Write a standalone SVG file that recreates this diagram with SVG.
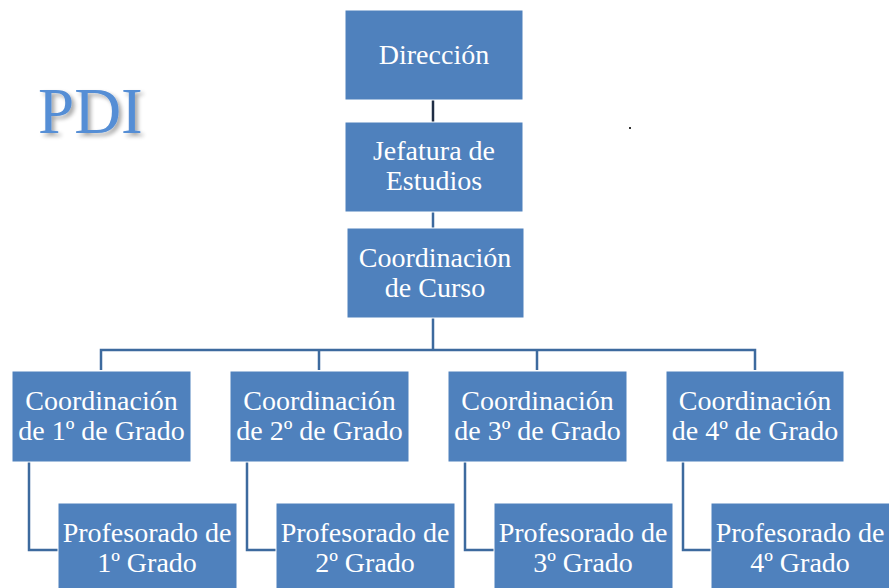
<svg xmlns="http://www.w3.org/2000/svg" width="889" height="588" viewBox="0 0 889 588">
<defs>
<style>
.box{fill:#4F81BD;stroke:#FFFFFF;stroke-width:1}
.t{font-family:'Liberation Serif',serif;font-size:28px;fill:#FFFFFF;text-anchor:middle}
.c{fill:none;stroke:#3D6A9E;stroke-width:2.5}
</style>
<filter id="sh" x="-10%" y="-10%" width="130%" height="130%">
<feGaussianBlur in="SourceAlpha" stdDeviation="2"/>
<feOffset dx="3" dy="3" result="b"/>
<feComponentTransfer><feFuncA type="linear" slope="0.35"/></feComponentTransfer>
<feMerge><feMergeNode/><feMergeNode in="SourceGraphic"/></feMerge>
</filter>
</defs>
<rect width="889" height="588" fill="#FFFFFF"/>
<text x="38" y="133" font-family="Liberation Serif,serif" font-size="65" fill="#558ED5" filter="url(#sh)">PDI</text>
<rect x="629" y="127" width="2" height="2" fill="#333"/>
<g id="connectors">
<line x1="433" y1="100" x2="433" y2="122" stroke="#1F2D44" stroke-width="2.5"/>
<line class="c" x1="433" y1="212" x2="433" y2="228"/>
<path class="c" d="M433 318V350M101 370V350H755V370M319 350V370M537 350V370"/>
<path class="c" d="M29 462V550H58M247 462V550H276M465 462V550H494M683 462V550H711"/>
</g>
<g font-family="Liberation Serif,serif">
<g id="direccion"><rect class="box" x="345" y="10" width="178" height="90"/><text class="t" x="434" y="64">Dirección</text></g>
<g id="jefatura"><rect class="box" x="345" y="122" width="178" height="90"/><text class="t" x="434" y="160">Jefatura de</text><text class="t" x="434" y="190">Estudios</text></g>
<g id="curso"><rect class="box" x="347" y="228" width="177" height="90"/><text class="t" x="435" y="267">Coordinación</text><text class="t" x="435" y="297">de Curso</text></g>
<g id="coord1"><rect class="box" x="12" y="371" width="179" height="91"/><text class="t" x="101.5" y="410">Coordinación</text><text class="t" x="101.5" y="440">de 1º de Grado</text></g>
<g id="coord2"><rect class="box" x="230" y="371" width="179" height="91"/><text class="t" x="319.5" y="410">Coordinación</text><text class="t" x="319.5" y="440">de 2º de Grado</text></g>
<g id="coord3"><rect class="box" x="448" y="371" width="179" height="91"/><text class="t" x="537.5" y="410">Coordinación</text><text class="t" x="537.5" y="440">de 3º de Grado</text></g>
<g id="coord4"><rect class="box" x="666" y="371" width="178" height="91"/><text class="t" x="755" y="410">Coordinación</text><text class="t" x="755" y="440">de 4º de Grado</text></g>
<g id="prof1"><rect class="box" x="58" y="503" width="179" height="90"/><text class="t" x="147" y="542">Profesorado de</text><text class="t" x="147" y="572">1º Grado</text></g>
<g id="prof2"><rect class="box" x="276" y="503" width="179" height="90"/><text class="t" x="365" y="542">Profesorado de</text><text class="t" x="365" y="572">2º Grado</text></g>
<g id="prof3"><rect class="box" x="494" y="503" width="179" height="90"/><text class="t" x="583" y="542">Profesorado de</text><text class="t" x="583" y="572">3º Grado</text></g>
<g id="prof4"><rect class="box" x="711" y="503" width="179" height="90"/><text class="t" x="800" y="542">Profesorado de</text><text class="t" x="800" y="572">4º Grado</text></g>
</g>
</svg>
